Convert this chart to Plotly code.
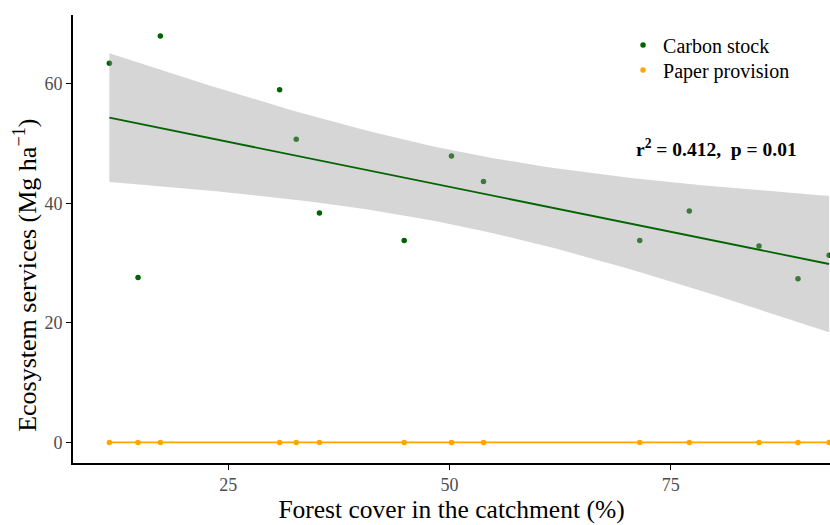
import numpy as np
import plotly.graph_objects as go

# Forest cover (%) for each catchment
forest_cover = [11.56, 14.8, 17.32, 30.8, 32.68, 35.3, 44.88, 50.22, 53.84,
                71.5, 77.1, 84.98, 89.38, 92.9]
# Ecosystem services (Mg ha-1)
carbon_stock = [63.44, 27.6, 68.0, 58.98, 50.7, 38.36, 33.78, 47.9, 43.65,
                33.78, 38.7, 32.84, 27.4, 31.3]
paper_provision = [0, 0, 0, 0, 0, 0, 0, 0, 0, 0, 0, 0, 0, 0]

series_names = ["Carbon stock", "Paper provision"]
series_colors = ["#006400", "#FFA500"]
x_ticks = [25, 50, 75]
y_ticks = [0, 20, 40, 60]
stat_label = "<b>r<sup>2</sup> = 0.412,  p = 0.01</b>"
x_title = "Forest cover in the catchment (%)"
y_title = "Ecosystem services (Mg ha<sup>\u22121</sup>)"

T_975_DF12 = 2.1788  # Student t quantile for the 95% band (n - 2 = 12)


def linear_fit(x, y, n_grid=80):
    x = np.asarray(x, float)
    y = np.asarray(y, float)
    slope, intercept = np.polyfit(x, y, 1)
    grid = np.linspace(x.min(), x.max(), n_grid)
    fit = intercept + slope * grid
    resid = y - (intercept + slope * x)
    dof = len(x) - 2
    s = np.sqrt(np.sum(resid ** 2) / dof)
    sxx = np.sum((x - x.mean()) ** 2)
    se = s * np.sqrt(1 / len(x) + (grid - x.mean()) ** 2 / sxx)
    return grid, fit, fit - T_975_DF12 * se, fit + T_975_DF12 * se


font_family = "Liberation Serif"
fig = go.Figure()

# one legend box per series so the two rows sit close together
legend_ids = ["legend", "legend2"]
for name, color, values, leg in zip(series_names, series_colors,
                                    [carbon_stock, paper_provision], legend_ids):
    fig.add_trace(go.Scatter(
        x=forest_cover, y=values, mode="markers", name=name, legend=leg,
        marker=dict(color=color, size=5.5), cliponaxis=False,
    ))

for name, color, values in zip(series_names, series_colors,
                               [carbon_stock, paper_provision]):
    grid, fit, lo, hi = linear_fit(forest_cover, values)
    fig.add_trace(go.Scatter(
        x=np.concatenate([grid, grid[::-1]]),
        y=np.concatenate([hi, lo[::-1]]),
        fill="toself", fillcolor="rgba(153,153,153,0.4)",
        line=dict(width=0), mode="lines", showlegend=False, hoverinfo="skip",
    ))
    fig.add_trace(go.Scatter(
        x=grid, y=fit, mode="lines", line=dict(color=color, width=1.8),
        showlegend=False,
    ))

fig.add_annotation(
    x=80.2, y=49.3, text=stat_label, showarrow=False,
    font=dict(family=font_family, size=19.5, color="black"),
)
fig.add_annotation(
    xref="paper", yref="paper", x=-0.062, y=0.418, text=y_title,
    textangle=-90, showarrow=False, xanchor="center", yanchor="middle",
    font=dict(family=font_family, size=26, color="black"),
)

legend_style = dict(
    xanchor="left", yanchor="middle",
    font=dict(family=font_family, size=20, color="black"),
    bgcolor="rgba(0,0,0,0)", itemwidth=30,
)
fig.update_layout(
    width=830, height=525,
    margin=dict(l=73, r=0, t=15, b=62),
    plot_bgcolor="white", paper_bgcolor="white",
    font=dict(family=font_family),
    legend=dict(x=0.7266, y=0.933, **legend_style),
    legend2=dict(x=0.7266, y=0.877, **legend_style),
)
fig.update_xaxes(
    range=[7.45, 93.0], tickvals=x_ticks, showgrid=False, zeroline=False,
    showline=True, linecolor="black", linewidth=1.6,
    ticks="outside", ticklen=5, tickwidth=1.4, tickcolor="black",
    tickfont=dict(family=font_family, size=18, color="#4d4d4d"),
    title=dict(text=x_title,
               font=dict(family=font_family, size=25.5, color="black"),
               standoff=4),
)
fig.update_yaxes(
    range=[-3.44, 71.5], tickvals=y_ticks, showgrid=False, zeroline=False,
    showline=True, linecolor="black", linewidth=1.6,
    ticks="outside", ticklen=5, tickwidth=1.4, tickcolor="black",
    tickfont=dict(family=font_family, size=18, color="#4d4d4d"),
)

fig.write_html("out.html")
